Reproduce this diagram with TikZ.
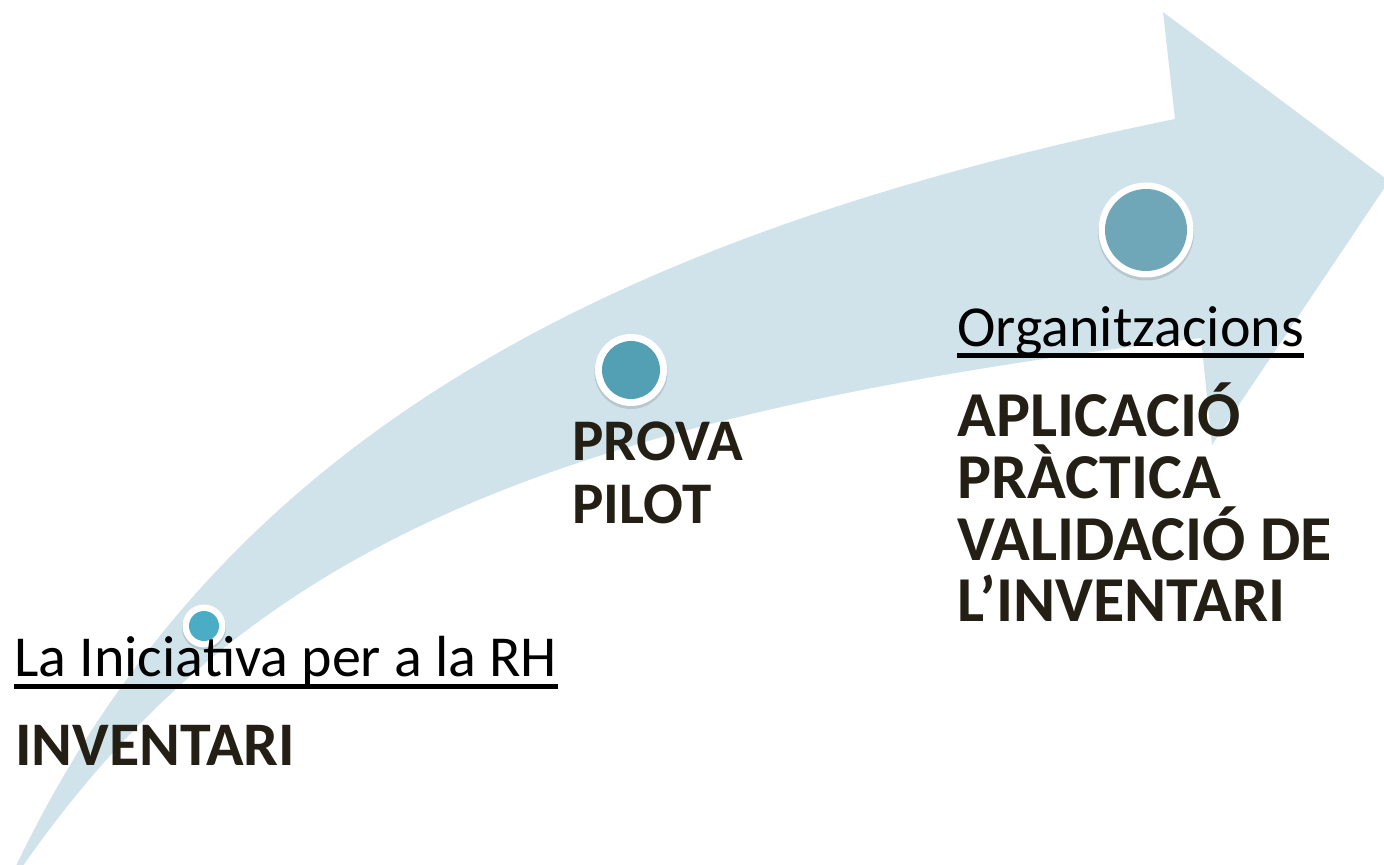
\documentclass[tikz,border=0pt]{standalone}
\usepackage{fontspec}
\setmainfont{Carlito}
\definecolor{bandblue}{RGB}{208,227,234}
\definecolor{darktext}{RGB}{35,31,20}
\definecolor{dotA}{RGB}{75,172,198}
\definecolor{dotB}{RGB}{83,159,180}
\definecolor{dotC}{RGB}{111,167,184}
\tikzset{
  bandshape/.style={fill=bandblue},
  shade/.style={circle, inner sep=0pt, fill=black, opacity=0.12},
  ring/.style={circle, inner sep=0pt, fill=white},
  dot/.style={circle, inner sep=0pt},
  plain/.style={anchor=base west, inner sep=0pt, text=black, font=\fontsize{29}{30}\selectfont},
  heavy/.style={anchor=base west, inner sep=0pt, text=darktext, font=\fontsize{29.5}{31}\selectfont\bfseries},
  heavier/.style={heavy, font=\fontsize{31}{32}\selectfont\bfseries},
  heaviest/.style={heavy, font=\fontsize{32}{33}\selectfont\bfseries},
  uline/.style={line width=2.5pt, black}
}
\begin{document}
\begin{tikzpicture}[x=0.5pt,y=-0.5pt]
\useasboundingbox (0,0) rectangle (1384,865);
\clip (0,0) rectangle (1384,865);
% curved arrow band
\fill[bandshape] (14,870) .. controls (204,471) and (553,246) .. (1175,119)
  -- (1163,12) -- (1389,181) -- (1212,445) -- (1201,338)
  .. controls (537,418) and (241,552) .. (20,870)
  -- cycle;
% markers
\node[shade, minimum size=22pt] (s1) at (204,628) {};
\node[ring, minimum size=21.5pt] (r1) at (204,626) {};
\node[dot, fill=dotA, minimum size=15pt] (d1) at (r1.center) {};
\node[shade, minimum size=36.5pt] (s2) at (631,372.5) {};
\node[ring, minimum size=36pt] (r2) at (631,370) {};
\node[dot, fill=dotB, minimum size=29pt] (d2) at (r2.center) {};
\node[shade, minimum size=48pt] (s3) at (1146,232.5) {};
\node[ring, minimum size=47.5pt] (r3) at (1146,230) {};
\node[dot, fill=dotC, minimum size=41pt] (d3) at (r3.center) {};
% texts
\node[plain] (t1) at (14,676) {La Iniciativa per a la RH};
\draw[uline] ([yshift=-5pt]t1.base west) -- ([yshift=-5pt]t1.base east);
\node[heavier] (t2) at (15,765) {INVENTARI};
\node[heavy] (p1) at (572,460) {PROVA};
\node[heavy] (p2) at (572,523) {PILOT};
\node[plain] (o1) at (957,347) {Organitzacions};
\draw[uline] ([yshift=-4.5pt]o1.base west) -- ([yshift=-4.5pt]o1.base east);
\node[heaviest] (a1) at (957,437) {APLICACIÓ};
\node[heaviest] (a2) at (957,498) {PRÀCTICA};
\node[heaviest] (a3) at (957,560) {VALIDACIÓ DE};
\node[heaviest] (a4) at (957,621) {L’INVENTARI};
\end{tikzpicture}
\end{document}
